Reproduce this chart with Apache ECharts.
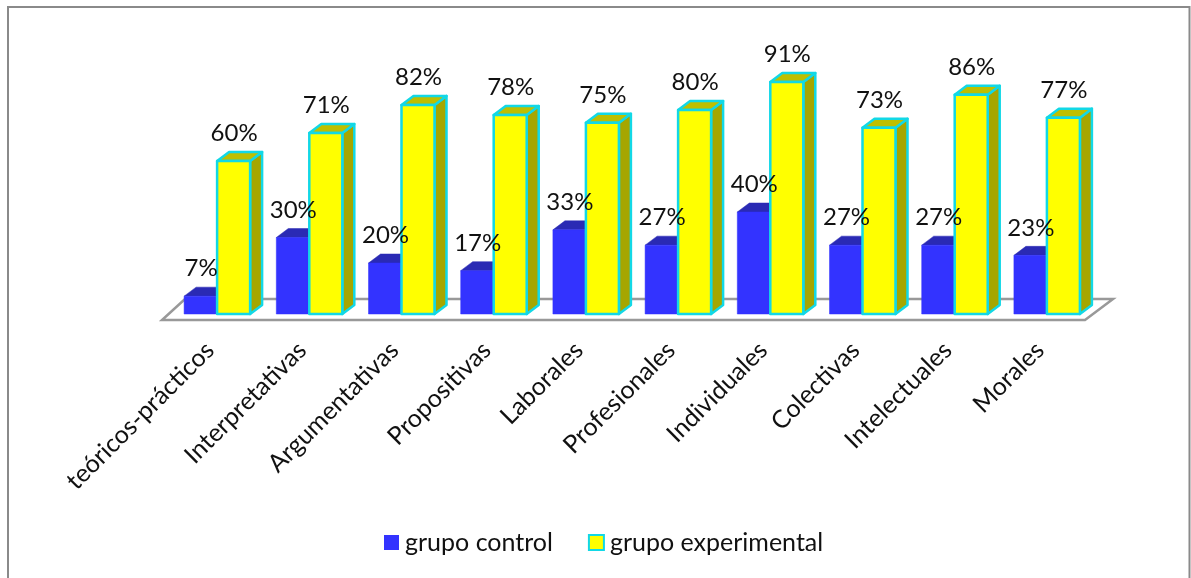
<!DOCTYPE html>
<html lang="es">
<head>
<meta charset="utf-8">
<style>html,body{margin:0;padding:0;background:#fff}#chart{width:1191px;height:578px}</style>
<script src="https://cdn.jsdelivr.net/npm/echarts@6/dist/echarts.min.js"></script>
</head>
<body>
<div id="chart"></div>
<script>
const categories = ['teóricos-prácticos','Interpretativas','Argumentativas','Propositivas','Laborales','Profesionales','Individuales','Colectivas','Intelectuales','Morales'];
const grupoControl = [7,30,20,17,33,27,40,27,27,23];
const grupoExperimental = [60,71,82,78,75,80,91,73,86,77];
const FONT = 'Lato, "Open Sans", sans-serif';
const BAR_W = 33, DEPTH_X = 12, DEPTH_Y = 9;

// Extruded column: front face, top face and right side face
function column(shift, colors, lineWidth) {
  return (params, api) => {
    const top = api.coord([api.value(0), api.value(1)]);
    const base = api.coord([api.value(0), 0]);
    const x0 = top[0] + shift, x1 = x0 + BAR_W, y0 = top[1], y1 = base[1];
    const stroke = colors.stroke;
    const sty = fill => ({fill, stroke: stroke || fill, lineWidth: lineWidth, lineJoin: 'round'});
    return {type: 'group', children: [
      {type: 'polygon', shape: {points: [[x1,y0],[x1+DEPTH_X,y0-DEPTH_Y],[x1+DEPTH_X,y1-DEPTH_Y],[x1,y1]]}, style: sty(colors.side)},
      {type: 'polygon', shape: {points: [[x0,y0],[x0+DEPTH_X,y0-DEPTH_Y],[x1+DEPTH_X,y0-DEPTH_Y],[x1,y0]]}, style: sty(colors.top)},
      {type: 'rect', shape: {x: x0, y: y0, width: BAR_W, height: y1-y0}, style: sty(colors.front)}
    ]};
  };
}

// Percentage text floating above a column
function valueLabel(shift) {
  return (params, api) => {
    const p = api.coord([api.value(0), api.value(1)]);
    return {type: 'text', style: {
      text: api.value(1) + '%', x: p[0] + shift + 0.5, y: p[1] - 27.5,
      textAlign: 'center', textVerticalAlign: 'middle',
      font: '24px ' + FONT, fill: '#111'
    }};
  };
}

// Perspective floor under the columns, derived from the plot rectangle
function floor(params, api) {
  const c = params.coordSys, y = c.y + c.height;
  return {type: 'polygon', shape: {points: [
    [c.x - 9, y + 6], [c.x + c.width - 8, y + 6],
    [c.x + c.width + 20, y - 15], [c.x + 14, y - 15]
  ]}, style: {fill: '#fff', stroke: '#999', lineWidth: 2.5}};
}

const pairs = arr => arr.map((v, i) => [i, v]);
const chart = echarts.init(document.getElementById('chart'), null, {renderer: 'canvas'});
chart.setOption({
  animation: false,
  backgroundColor: '#fff',
  graphic: [{type: 'rect', silent: true, z: -10, shape: {x: 8, y: 7, width: 1181.5, height: 620},
    style: {fill: 'none', stroke: '#8a8a8a', lineWidth: 2}}],
  grid: {left: 171, top: 59, width: 922, height: 255},
  xAxis: {type: 'category', data: categories, axisLine: {show: false}, axisTick: {show: false},
    axisLabel: {rotate: 45, interval: 0, margin: 25, padding: [0, 10, 0, 0], fontSize: 25, fontFamily: FONT, color: '#111'}},
  yAxis: {type: 'value', min: 0, max: 100, show: false},
  legend: {
    left: 379, top: 525, itemWidth: 15, itemHeight: 15, itemGap: 35, icon: 'rect',
    data: ['grupo control', 'grupo experimental'],
    textStyle: {fontSize: 25, fontFamily: FONT, color: '#111', padding: [0,0,0,1]}
  },
  series: [
    {type: 'custom', name: 'floor', silent: true, z: 1, data: [[0, 0]], encode: {x: 0, y: 1}, renderItem: floor},
    {type: 'custom', name: 'grupo control', z: 2, data: pairs(grupoControl), encode: {x: 0, y: 1},
      itemStyle: {color: '#3333ff'},
      renderItem: column(-BAR_W, {front: '#3333ff', top: '#2a2ab4', side: '#2a2ab4'}, 0.5)},
    {type: 'custom', name: 'grupo experimental', z: 3, data: pairs(grupoExperimental), encode: {x: 0, y: 1},
      itemStyle: {color: '#ffff00', borderColor: '#12d8e6', borderWidth: 2},
      renderItem: column(0, {front: '#ffff00', top: '#bfbf00', side: '#a6a600', stroke: '#12d8e6'}, 2.5)},
    {type: 'custom', name: 'grupo control', z: 5, silent: true, data: pairs(grupoControl), encode: {x: 0, y: 1}, renderItem: valueLabel(-BAR_W / 2)},
    {type: 'custom', name: 'grupo experimental', z: 5, silent: true, data: pairs(grupoExperimental), encode: {x: 0, y: 1}, renderItem: valueLabel(BAR_W / 2)}
  ]
});
</script>
</body>
</html>
